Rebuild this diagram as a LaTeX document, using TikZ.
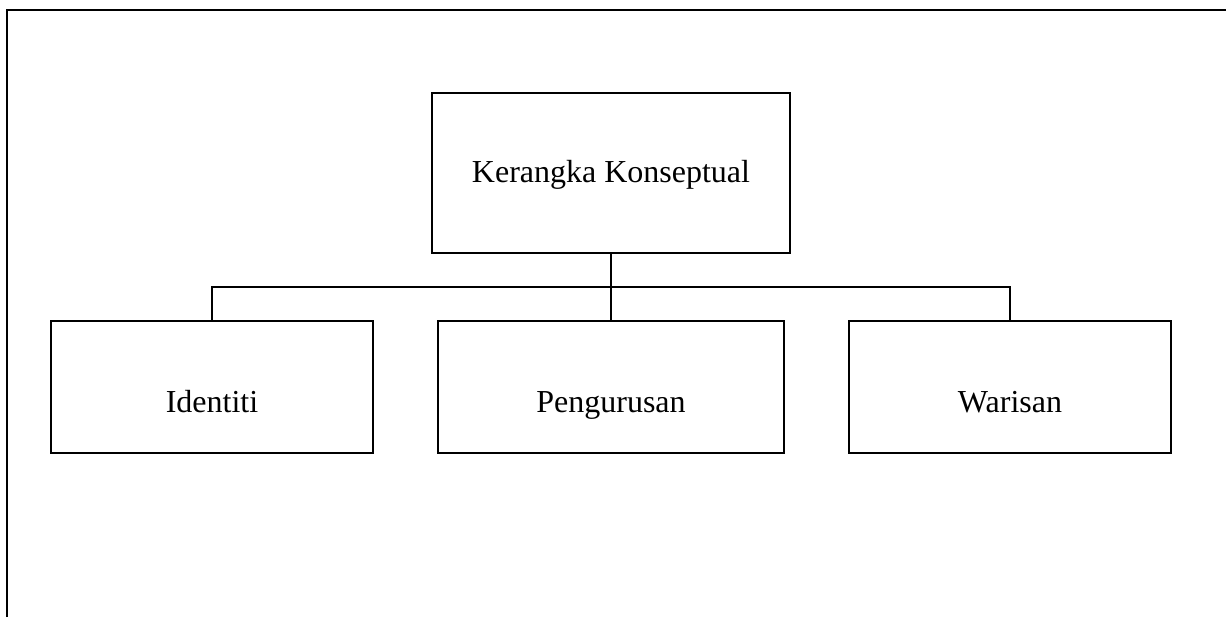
\documentclass[tikz,border=0pt]{standalone}
\usepackage{fontspec}
\setmainfont{Liberation Serif}
\usepackage{tikz}

\tikzset{
    kotak/.style={draw, rectangle, line width=2pt, inner sep=0pt,
                  text height=18.5pt, text depth=5pt,
                  font=\fontsize{24}{29}\selectfont},
    anak/.style={kotak, minimum height=132*0.75pt, text height=42.5pt},
}

\begin{document}
\begin{tikzpicture}[x=0.75pt, y=-0.75pt, line width=2pt]
            \useasboundingbox (0,0) rectangle (1226,617);

            % bingkai halaman
            \draw (7,617) -- (7,10) -- (1226,10);

            \node[kotak, minimum width=358*0.75pt, minimum height=160*0.75pt] (KK) at (611,173) {Kerangka Konseptual};
            \node[anak, minimum width=322*0.75pt] (I) at (212,387) {Identiti};
            \node[anak, minimum width=346*0.75pt] (P) at (611,387) {Pengurusan};
            \node[anak, minimum width=322*0.75pt] (W) at (1010,387) {Warisan};
            \coordinate (bus) at (611,287);

            \draw (KK.south) -- (bus);
            \draw (bus) -- (P.north);
            \draw (I.north) |- (bus) -| (W.north);
         \end{tikzpicture}
\end{document}
